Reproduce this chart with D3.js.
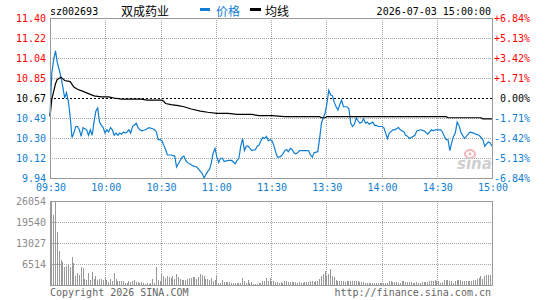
<!DOCTYPE html>
<html>
<head>
<meta charset="utf-8">
<script src="https://cdn.jsdelivr.net/npm/d3@7/dist/d3.min.js"></script>
<style>
body { margin: 0; background: #fff; }
svg { display: block; }
</style>
</head>
<body>
<div id="vis_container"></div>
<script>
// Minute index (0 = 09:30, 241 = 15:00) and price.
var priceMinutes = [0,1,2,3,4,5,6,7,8,9,10,11,12,13,14,15,16,17,18,19,20,21,22,23,24,25,26,27,28,29,30,31,32,33,34,35,36,37,38,39,40,41,42,43,44,45,47,48,49,50,52,53,54,56,57,58,59,60,61,62,63,64,66,68,69,70,71,72,73,74,75,76,77,78,80,81,82,83,84,85,86,87,88,89,90,91,92,93,94,95,97,98,99,101,102,103,104,105,106,107,108,109,110,112,113,114,115,116,117,118,119,120,121,122,123,124,125,126,127,128,129,130,131,132,133,134,135,136,138,140,141,142,143,144,146,147,148,149,150,151,152,153,154,155,156,157,158,159,160,162,163,164,165,166,167,168,169,170,171,172,173,174,176,177,178,179,181,182,183,184,185,187,188,190,191,193,194,195,196,197,199,200,202,204,206,207,208,209,210,211,213,214,215,216,217,218,219,220,221,222,223,224,225,226,227,228,229,231,232,234,236,237,238,239,240,241];
var prices = [10.51,10.90,11.02,11.10,10.99,10.93,10.86,10.77,10.67,10.72,10.64,10.50,10.31,10.35,10.41,10.41,10.38,10.32,10.40,10.39,10.38,10.33,10.38,10.33,10.45,10.55,10.58,10.45,10.42,10.40,10.35,10.38,10.36,10.40,10.38,10.33,10.35,10.33,10.35,10.34,10.36,10.35,10.36,10.38,10.35,10.41,10.44,10.40,10.38,10.37,10.38,10.39,10.40,10.39,10.38,10.36,10.29,10.29,10.28,10.24,10.20,10.15,10.15,10.14,10.04,10.07,10.10,10.13,10.14,10.10,10.08,10.07,10.06,10.05,10.04,10.02,10.00,9.98,9.94,9.97,10.00,10.02,10.08,10.17,10.21,10.13,10.08,10.12,10.12,10.09,10.10,10.10,10.10,10.07,10.10,10.12,10.23,10.30,10.19,10.23,10.23,10.21,10.19,10.20,10.23,10.24,10.28,10.31,10.30,10.32,10.28,10.29,10.28,10.24,10.18,10.13,10.13,10.14,10.16,10.19,10.20,10.18,10.21,10.20,10.17,10.16,10.17,10.19,10.19,10.19,10.19,10.15,10.13,10.17,10.18,10.30,10.44,10.49,10.53,10.62,10.74,10.70,10.69,10.63,10.59,10.56,10.61,10.65,10.59,10.59,10.57,10.44,10.41,10.43,10.49,10.46,10.44,10.45,10.48,10.44,10.45,10.43,10.45,10.42,10.42,10.41,10.41,10.40,10.35,10.30,10.35,10.38,10.38,10.40,10.38,10.36,10.33,10.32,10.30,10.31,10.33,10.37,10.38,10.37,10.34,10.36,10.38,10.37,10.38,10.38,10.38,10.36,10.32,10.29,10.29,10.19,10.26,10.32,10.35,10.45,10.42,10.36,10.33,10.30,10.32,10.34,10.36,10.35,10.34,10.33,10.29,10.23,10.25,10.27,10.26,10.23];

// Average price line (均线).
var avgMinutes = [0,1,3,4,6,8,11,13,15,18,21,24,28,32,35,39,50,53,61,62,63,66,70,73,77,82,86,91,97,102,110,114,121,128,147,148,150,151,216,217,235,236,241];
var avgPrices = [10.50,10.66,10.80,10.84,10.86,10.83,10.82,10.77,10.75,10.73,10.71,10.69,10.68,10.68,10.67,10.66,10.66,10.65,10.65,10.64,10.62,10.61,10.60,10.59,10.57,10.55,10.54,10.53,10.53,10.52,10.52,10.51,10.51,10.50,10.50,10.49,10.49,10.50,10.50,10.49,10.49,10.48,10.48];

// Volume per minute, 242 bars.
var volumes = [10850,26054,21700,26054,16500,10600,7750,7200,5700,6000,6200,5550,8650,6900,
	2690,3720,3200,5580,5270,1860,1650,
	3720,1550,4030,1860,2690,1550,1960,1860,1450,2480,1650,830,1960,1140,3720,1860,1140,1140,1340,1340,
	620,620,1340,830,1340,1550,930,830,620,930,620,410,620,410,620,1860,620,5580,1650,1140,
	3720,2690,2170,2690,2480,2170,2690,1960,3510,2480,1960,1650,1650,1650,1860,2070,2070,2380,2480,1960,2480,3410,3200,2690,1960,1960,1650,2070,1140,1650,
	2690,620,620,1650,930,930,930,930,620,620,520,620,620,620,2170,1140,620,1650,620,830,310,310,310,620,520,1140,1340,2170,1140,2170,
	1140,1140,830,830,620,830,620,1140,1140,830,830,830,930,930,620,830,620,620,830,830,1030,1140,1140,830,1140,1140,1860,2690,3410,4240,2690,3510,4960,2690,2380,1650,1140,
	1140,1340,1140,830,1140,1340,1140,1340,1340,1140,1340,930,830,830,
	620,620,620,620,620,620,620,620,620,620,620,620,620,
	1340,1140,830,830,830,620,620,1140,1140,830,830,830,830,620,620,830,620,620,830,830,830,830,
	1140,1340,1140,1650,1340,1140,620,830,1650,1450,1650,1140,1340,620,1140,1650,1450,1650,1140,1340,1340,1140,1340,1340,1450,1650,1860,2170,2690,1960,2890,3200,3200,3200,3200];

var timeLabels = ["09:30","10:00","10:30","11:00","11:30","13:30","14:00","14:30","15:00"];
var priceTicks = ["11.40","11.22","11.04","10.85","10.67","10.49","10.30","10.12","9.94"];
var pctTicks = ["+6.84%","+5.13%","+3.42%","+1.71%","0.00%","-1.71%","-3.42%","-5.13%","-6.84%"];
var volTicks = [26054,19540,13027,6514];

var width = 545, height = 300;
var pLeft = 50, pRight = 492, pTop = 18, pBottom = 178;
var vTop = 201, vBottom = 285;
var mono = "'DejaVu Sans Mono', 'Liberation Mono', monospace";
var cjk = "'Noto Sans CJK SC', sans-serif";
var blue = "#0f7dd2", red = "#ff0000", gridColor = "#a6a6a6", frameColor = "#999999";

var x = d3.scaleLinear().domain([0, 241]).range([pLeft, pRight]);
var y = d3.scaleLinear().domain([9.94, 11.40]).range([pBottom, pTop]);
var yv = d3.scaleLinear().domain([0, 26054]).range([vBottom, vTop]);
// grid index scales (8 columns, 8 price rows)
var gx = d3.scaleLinear().domain([0, 8]).range([pLeft + 0.5, pRight + 0.5]);
var gy = d3.scaleLinear().domain([0, 8]).range([pTop + 0.5, pBottom + 0.5]);

var svg = d3.select("#vis_container").append("svg")
	.attr("width", width)
	.attr("height", height);

function tickColor(i) {
	if (i < 4) return red;
	if (i == 4) return "#000";
	return blue;
}

// vertical grid, both panels
function vgrid(y0, y1) {
	svg.append("g").selectAll("line").data(d3.range(1, 8)).enter().append("line")
		.attr("x1", function(d) { return Math.round(gx(d) - 0.5) + 0.5; })
		.attr("x2", function(d) { return Math.round(gx(d) - 0.5) + 0.5; })
		.attr("y1", y0).attr("y2", y1)
		.style("stroke", gridColor)
		.style("stroke-dasharray", "1,1");
}
vgrid(pTop, pBottom);
vgrid(vTop, vBottom);

// horizontal price grid
svg.append("g").selectAll("line").data(d3.range(1, 8)).enter().append("line")
	.attr("x1", pLeft).attr("x2", pRight)
	.attr("y1", function(d) { return gy(d); })
	.attr("y2", function(d) { return gy(d); })
	.style("stroke", function(d) { return d == 4 ? "#000" : gridColor; })
	.style("stroke-dasharray", function(d) { return d == 4 ? "2,2" : "1,1"; });

// horizontal volume grid
svg.append("g").selectAll("line").data(volTicks.slice(1)).enter().append("line")
	.attr("x1", pLeft).attr("x2", pRight)
	.attr("y1", function(d) { return Math.round(yv(d)) + 0.5; })
	.attr("y2", function(d) { return Math.round(yv(d)) + 0.5; })
	.style("stroke", gridColor)
	.style("stroke-dasharray", "1,1");

// sina watermark
var logo = svg.append("g").attr("transform", "translate(457,150)");
logo.append("ellipse").attr("cx", 13).attr("cy", 4).attr("rx", 5).attr("ry", 4)
	.style("fill", "none").style("stroke", "#f2b4b4").style("stroke-width", 2);
logo.append("circle").attr("cx", 13).attr("cy", 4).attr("r", 1.5).style("fill", "#f2b4b4");
logo.append("text").attr("x", 0).attr("y", 19)
	.style("font-family", "'DejaVu Sans', sans-serif")
	.style("font-size", "15px").style("font-weight", "bold").style("font-style", "italic")
	.style("fill", "#cfcfcf").text("sina");

// volume bars
svg.append("g").selectAll("rect").data(volumes).enter().append("rect")
	.attr("x", function(d, i) { return Math.floor(x(i)); })
	.attr("width", 1)
	.attr("y", function(d) { return Math.round(yv(d)); })
	.attr("height", function(d) { return vBottom - Math.round(yv(d)); })
	.style("fill", "#999");

// price line and average line
var priceLine = d3.line()
	.x(function(d) { return x(d[0]); })
	.y(function(d) { return y(d[1]); });

svg.append("path")
	.datum(d3.zip(priceMinutes, prices))
	.attr("d", priceLine)
	.style("fill", "none")
	.style("stroke", blue)
	.style("stroke-width", 1.2);

svg.append("path")
	.datum(d3.zip(avgMinutes, avgPrices))
	.attr("d", priceLine)
	.style("fill", "none")
	.style("stroke", "#000")
	.style("stroke-width", 1.2);

// frames
svg.append("rect").attr("x", pLeft + 0.5).attr("y", pTop + 0.5)
	.attr("width", pRight - pLeft).attr("height", pBottom - pTop)
	.style("fill", "none").style("stroke", frameColor);
svg.append("rect").attr("x", pLeft + 0.5).attr("y", vTop + 0.5)
	.attr("width", pRight - pLeft).attr("height", vBottom - vTop)
	.style("fill", "none").style("stroke", frameColor);

// axes
function styleAxis(g) {
	g.select(".domain").remove();
	g.attr("font-family", mono).attr("font-size", 10);
}

var leftAxis = svg.append("g")
	.attr("transform", "translate(" + pLeft + ",0)")
	.call(d3.axisLeft(gy).tickValues(d3.range(0, 9)).tickSize(0).tickPadding(4)
		.tickFormat(function(i) { return priceTicks[i]; }))
	.call(styleAxis);
leftAxis.selectAll("text").style("fill", function(i) { return tickColor(i); });

var rightAxis = svg.append("g")
	.attr("transform", "translate(" + pRight + ",0)")
	.call(d3.axisRight(gy).tickValues(d3.range(0, 9)).tickSize(0).tickPadding(4)
		.tickFormat(function(i) { return pctTicks[i]; }))
	.call(styleAxis);
rightAxis.selectAll("text")
	.attr("x", 38)
	.style("text-anchor", "end")
	.style("fill", function(i) { return tickColor(i); });

var timeAxis = svg.append("g")
	.attr("transform", "translate(0," + pBottom + ")")
	.call(d3.axisBottom(gx).tickValues(d3.range(0, 9)).tickSize(0).tickPadding(6)
		.tickFormat(function(i) { return timeLabels[i]; }))
	.call(styleAxis);
timeAxis.selectAll("text").style("fill", blue);

var volAxis = svg.append("g")
	.attr("transform", "translate(" + pLeft + ",0)")
	.call(d3.axisLeft(yv).tickValues(volTicks).tickSize(0).tickPadding(4)
		.tickFormat(d3.format("d")))
	.call(styleAxis);
volAxis.selectAll("text").style("fill", "#8c8c8c");

// header
svg.append("text").attr("x", 50).attr("y", 15)
	.style("font-family", mono).style("font-size", "10px").text("sz002693");
svg.append("text").attr("x", 121).attr("y", 16)
	.style("font-family", cjk).style("font-size", "12px").text("双成药业");
svg.append("rect").attr("x", 200).attr("y", 8).attr("width", 10).attr("height", 3).style("fill", blue);
svg.append("text").attr("x", 216).attr("y", 16)
	.style("font-family", cjk).style("font-size", "12px").style("fill", blue).text("价格");
svg.append("rect").attr("x", 250).attr("y", 8).attr("width", 11).attr("height", 3).style("fill", "#000");
svg.append("text").attr("x", 265).attr("y", 16)
	.style("font-family", cjk).style("font-size", "12px").text("均线");
svg.append("text").attr("x", 491).attr("y", 15)
	.style("font-family", mono).style("font-size", "10px").style("text-anchor", "end")
	.text("2026-07-03 15:00:00");

// footer
svg.append("text").attr("x", 50).attr("y", 296)
	.style("font-family", mono).style("font-size", "10px").style("fill", "#666")
	.text("Copyright 2026 SINA.COM");
svg.append("text").attr("x", 491).attr("y", 296)
	.style("font-family", mono).style("font-size", "10px").style("fill", "#666").style("text-anchor", "end")
	.text("http://finance.sina.com.cn");
</script>
</body>
</html>
